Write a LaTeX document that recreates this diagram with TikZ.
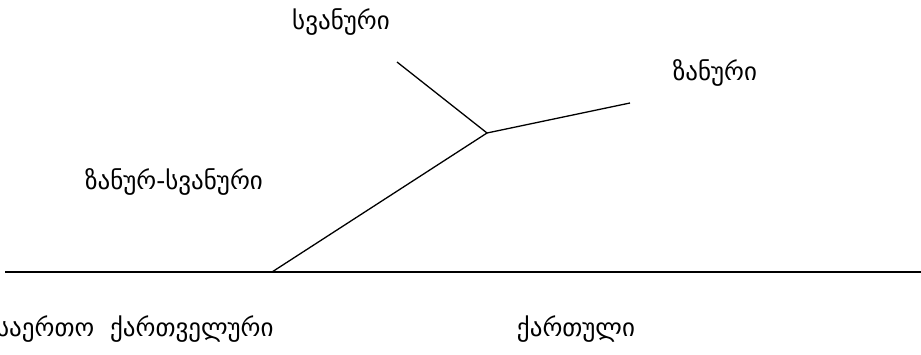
\documentclass[tikz,border=0pt]{standalone}
\usepackage{fontspec}
\newfontfamily\geo{DejaVu Sans}
\begin{document}
\begin{tikzpicture}[x=1pt,y=-1pt,
  lbl/.style={font=\geo\fontsize{25}{28}\selectfont, inner sep=0pt},
  branch/.style={line width=1.3pt},
  base/.style={line width=2pt}]
\useasboundingbox (0,0) rectangle (921,355);
\coordinate (L) at (5,272);
\coordinate (R) at (921,272);
\coordinate (S) at (272,272);
\coordinate (J) at (487,133);
\coordinate (Sv) at (397,62);
\coordinate (Za) at (630,103);
\draw[base] (L) -- (R);
\draw[branch] (S) -- (J);
\draw[branch] (J) -- (Sv);
\draw[branch] (J) -- (Za);
\node[lbl] (tsv) at (341,22) {სვანური};
\node[lbl] (tza) at (715,73) {ზანური};
\node[lbl] (tzs) at (174,182) {ზანურ-სვანური};
\node[lbl,anchor=west] (tsk) at (-4,329) {საერთო\ \ ქართველური};
\node[lbl] (tka) at (576,329) {ქართული};
\end{tikzpicture}
\end{document}
